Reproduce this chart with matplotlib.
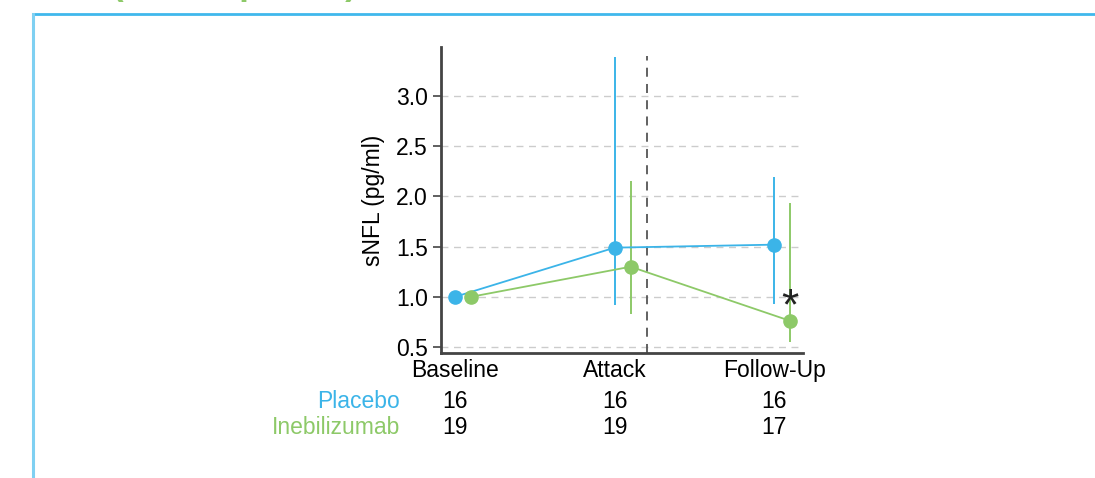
import matplotlib.pyplot as plt
from matplotlib.lines import Line2D

plt.rcParams['font.family'] = ['Liberation Sans', 'DejaVu Sans']

# sNFL over time, median with range
timepoints = ["Baseline", "Attack", "Follow-Up"]
placebo_mid = [1.0, 1.49, 1.52]
placebo_lo = [1.0, 0.92, 0.93]
placebo_hi = [1.0, 3.39, 2.19]
ineb_mid = [1.0, 1.30, 0.76]
ineb_lo = [1.0, 0.83, 0.55]
ineb_hi = [1.0, 2.15, 1.94]
placebo_n = [16, 16, 16]
ineb_n = [19, 19, 17]

blue = "#3bb4e8"
green = "#8dc968"
fs = 16.5

fig = plt.figure(figsize=(10.95, 4.78), dpi=100)

# light blue panel frame, top and left edges
fig.add_artist(Line2D([33 / 1095, 1.0], [1 - 14 / 478] * 2, color="#40b8ec", lw=2))
fig.add_artist(Line2D([33 / 1095] * 2, [0, 1 - 14 / 478], color="#7fd0f2", lw=2.2))
fig.text(112 / 1095, 1 - 2 / 478, "(Attack period)", color=green, fontsize=25,
         fontweight="bold", ha="left", va="bottom")

ax = fig.add_axes([441 / 1095, 1 - 353 / 478, (803 - 441) / 1095, (353 - 47) / 478])

x = [0, 1, 2]
xg = [v + 0.1 for v in x]

ax.vlines(x[1:], placebo_lo[1:], placebo_hi[1:], color=blue, lw=1.4, zorder=3)
ax.vlines(xg[1:], ineb_lo[1:], ineb_hi[1:], color=green, lw=1.4, zorder=3)
ax.plot(x, placebo_mid, color=blue, lw=1.3, marker="o", ms=9.5, zorder=4)
ax.plot(xg, ineb_mid, color=green, lw=1.3, marker="o", ms=9.5, zorder=4)

ax.axvline(1.2, ymax=0.97, color="#555555", lw=1.3, ls=(0, (5, 4)), zorder=2)
ax.text(xg[2], ineb_mid[2] + 0.13, "*", ha="center", va="center",
        fontsize=32, color="#222222")

ax.set_xlim(-0.088, 2.18)
ax.set_ylim(0.44, 3.49)
ax.set_yticks([0.5, 1.0, 1.5, 2.0, 2.5, 3.0])
ax.set_yticklabels(["0.5", "1.0", "1.5", "2.0", "2.5", "3.0"])
ax.set_xticks(x)
ax.set_xticklabels(timepoints)
ax.tick_params(axis="x", length=0, pad=4, labelsize=fs)
ax.tick_params(axis="y", length=6, width=1.2, color="#444444", labelsize=fs)
ax.yaxis.grid(True, color="#cccccc", ls=(0, (5, 4)), lw=1)
ax.set_axisbelow(True)
ax.set_ylabel("sNFL (pg/ml)", fontsize=fs, labelpad=8)

for s in ["top", "right"]:
    ax.spines[s].set_visible(False)
for s in ["left", "bottom"]:
    ax.spines[s].set_color("#444444")
    ax.spines[s].set_linewidth(2)

# patient numbers under each timepoint
trans = ax.get_xaxis_transform()
fig.text(400 / 1095, 1 - 402 / 478, "Placebo", color=blue, fontsize=fs,
         ha="right", va="center")
fig.text(400 / 1095, 1 - 428 / 478, "Inebilizumab", color=green, fontsize=fs,
         ha="right", va="center")
for xi, a, b in zip(x, placebo_n, ineb_n):
    ax.text(xi, -(402 - 353) / 306, str(a), transform=trans, ha="center",
            va="center", fontsize=fs)
    ax.text(xi, -(428 - 353) / 306, str(b), transform=trans, ha="center",
            va="center", fontsize=fs)

fig.savefig("out.png", dpi=100)
